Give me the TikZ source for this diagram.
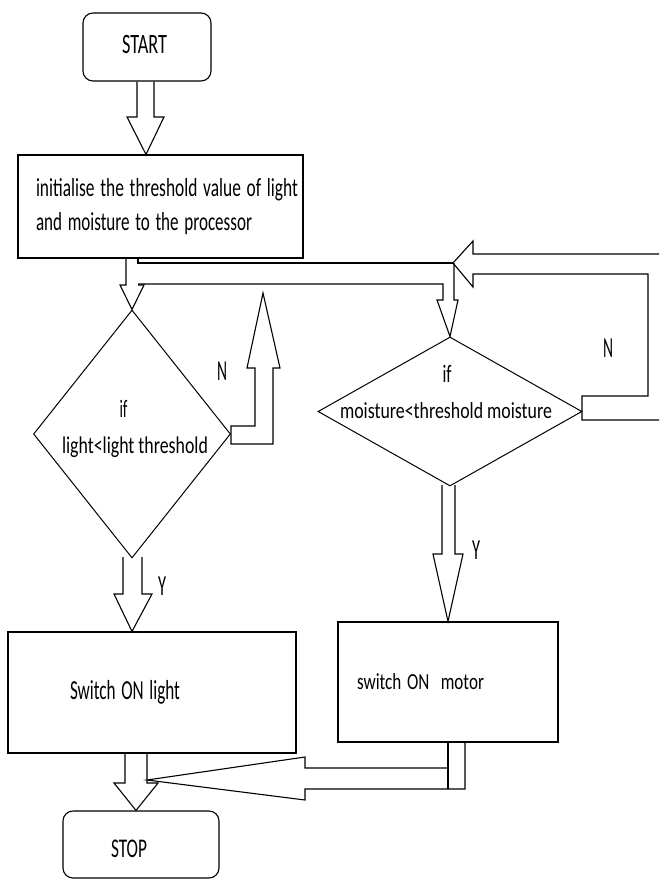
\documentclass[tikz,border=0pt]{standalone}
\usepackage{fontspec}
\usepackage{graphicx}
\setmainfont{Carlito}
\usetikzlibrary{shapes.geometric}
\newcommand\fitw[2]{\resizebox{#1}{\height}{#2}}
\begin{document}
\begin{tikzpicture}[x=1pt,y=-1pt,line width=1.1pt,
  terminal/.style={draw,rectangle,rounded corners=10pt,inner ysep=0pt},
  procbox/.style={draw,rectangle,inner ysep=0pt},
  decision/.style={draw,diamond,inner sep=0pt,line width=1pt},
  lbl/.style={inner sep=0pt,anchor=base},
  blockarrow/.style={draw,line join=miter}]
\useasboundingbox (0,0) rectangle (659,880);

% nodes
\node[terminal,minimum width=128pt,minimum height=68pt,text width=50pt,inner xsep=39pt,align=left,
  text depth=6pt,font=\fontsize{28}{34}\selectfont] (start) at (147,47) {\fitw{45pt}{START}};
\node[procbox,minimum width=285pt,minimum height=103pt,text width=249pt,inner xsep=18pt,align=left,
  font=\fontsize{26}{34}\selectfont] (init) at (160.5,206.5)
  {\fitw{262pt}{initialise the threshold value of light}\\\fitw{216pt}{and moisture to the processor}};
\node[decision,minimum width=197pt,minimum height=248pt] (dl) at (132,434) {};
\node[lbl,font=\fontsize{25}{30}\selectfont] (dlif) at (123.5,417) {\fitw{8pt}{if}};
\node[lbl,font=\fontsize{24}{30}\selectfont] (dltext) at (135,453) {\fitw{146pt}{light<light threshold}};
\node[decision,minimum width=264pt,minimum height=149pt] (dr) at (450,411.5) {};
\node[lbl,font=\fontsize{25}{30}\selectfont] (drif) at (447,382) {\fitw{9pt}{if}};
\node[lbl,font=\fontsize{23}{30}\selectfont] (drtext) at (446,418) {\fitw{212pt}{moisture<threshold moisture}};
\node[procbox,minimum width=288pt,minimum height=121pt,text width=164pt,inner xsep=62pt,align=left,
  font=\fontsize{27.5}{34}\selectfont] (light) at (152,692.5) {\fitw{110pt}{Switch ON light}};
\node[procbox,minimum width=220pt,minimum height=120pt,text width=182pt,inner xsep=19pt,align=left,
  font=\fontsize{23}{30}\selectfont] (motor) at (448,682) {\fitw{127pt}{switch ON~ motor}};
\node[terminal,minimum width=156pt,minimum height=67pt,text width=60pt,inner xsep=48pt,align=left,
  text height=25pt,text depth=0pt,font=\fontsize{27}{34}\selectfont] (stop) at (141,844.5) {\fitw{36pt}{STOP}};
\node[lbl,font=\fontsize{29}{34}\selectfont] (nl) at (222,380) {\fitw{10pt}{N}};
\node[lbl,font=\fontsize{29}{34}\selectfont] (nr) at (608,357) {\fitw{10pt}{N}};
\node[lbl,font=\fontsize{29}{34}\selectfont] (yl) at (162,595) {\fitw{8pt}{Y}};
\node[lbl,font=\fontsize{29}{34}\selectfont] (yr) at (476,559) {\fitw{8pt}{Y}};

% START -> init
\draw[blockarrow] (start.south -| 137,0) -- (137,117) -- (127,117) -- (init.north -| 146,0)
  -- (164,117) -- (154,117) -- (start.south -| 154,0);
% init -> left diamond, with channel to the right
\draw[blockarrow] (init.south -| 126,0) -- (126,285) -- (120,285) -- (dl.north) -- (144,285) -- (138,285);
\draw (init.south -| 138,0) -- (138,263) -- (453,263);
\draw (138,284) -- (443,284) -- (443,300) -- (437,300) -- (dr.north) -- (458,300) -- (454,300) -- (454,263);
% N loop from right diamond back to the channel
\draw[blockarrow] (659,254) -- (473,254) -- (473,241) -- (453,263) -- (473,287) -- (473,274)
  -- (648,274) -- (648,396) -- (582,396) -- (582,420) -- (659,420);
% N branch of left diamond
\draw[blockarrow] (231,426) -- (255,426) -- (255,368) -- (247,368) -- (263,293) -- (280,368)
  -- (273,368) -- (273,444) -- (231,444) -- cycle;
% Y of left diamond -> switch ON light
\draw[blockarrow] (123,557) -- (123,594) -- (114,594) -- (light.north -| 132,0) -- (152,594) -- (142,594) -- (142,557);
% Y of right diamond -> switch ON motor
\draw[blockarrow] (442,485) -- (442,554) -- (433,554) -- (motor.north) -- (463,554) -- (455,554) -- (455,485);
% switch ON light -> STOP
\draw[blockarrow] (light.south -| 125,0) -- (125,783) -- (114,783) -- (stop.north -| 136,0) -- (158,783) -- (147,783) -- (light.south -| 147,0);
% switch ON motor -> joins into STOP arrow
\draw[blockarrow] (motor.south -| 465,0) -- (465,789) -- (305,789) -- (305,800) -- (147,780) -- (305,757) -- (305,768) -- (448,768);
\draw (motor.south -| 448,0) -- (448,789);
\end{tikzpicture}
\end{document}
